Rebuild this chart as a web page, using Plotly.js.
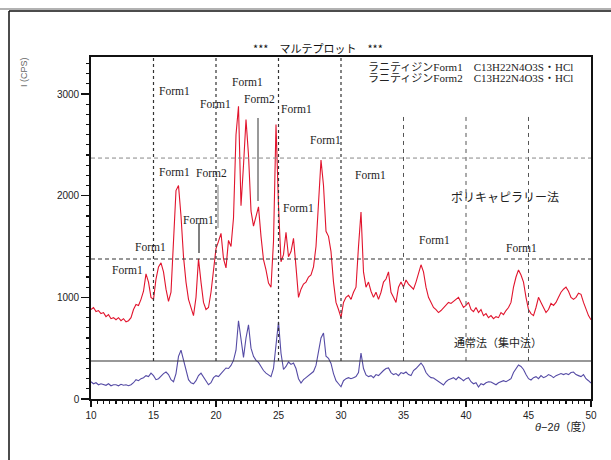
<!DOCTYPE html>
<html><head><meta charset="utf-8">
<script src="https://cdn.plot.ly/plotly-3.0.1.min.js"></script>
<style>body{margin:0;padding:0;background:#fff}#chart{width:611px;height:460px}</style>
</head><body><div id="chart"></div>
<script>
// 2θ sampling: start 10°, step 0.2°
const twoThetaStart = 10;
const twoThetaStep = 0.2;

// ポリキャピラリー法 intensity (CPS)
const polyCapillary = [
  880, 900, 860, 870, 840,
  850, 810, 830, 790, 800,
  780, 800, 770, 790, 760,
  770, 800, 880, 930, 920,
  980, 1060, 1230, 1150, 1000,
  980, 1180, 1300, 1340, 1250,
  1080, 960, 1050, 1500, 2050,
  2100, 1800, 1400, 1150, 980,
  900, 820, 1000, 1380, 1150,
  950, 880, 900, 1050, 1300,
  1480, 1550, 1630, 1380, 1290,
  1560, 1500, 1780, 2600, 2880,
  1900, 2300, 2750, 2400, 1850,
  1700, 1800, 1890, 1600, 1370,
  1270, 1140, 1100, 1550, 2700,
  1900, 1350, 1420, 1640, 1400,
  1450, 1580, 1300, 1000, 1080,
  1130, 1150, 1200, 1220, 1300,
  1500, 2000, 2350, 2100, 1650,
  1600, 1450, 1150, 950, 880,
  800, 950, 1000, 1020, 980,
  1050, 1100, 1500, 1840, 1250,
  1100, 1150, 1060, 1000, 1050,
  980, 1050, 1150, 1180, 1250,
  1050, 1000, 950, 1100, 1150,
  1100, 1170, 1130, 1100, 1080,
  1150, 1250, 1320, 1250, 1100,
  1000, 950, 900, 880, 850,
  870, 900, 920, 950, 940,
  960, 980, 1000, 950, 900,
  920, 950, 880, 860, 900,
  850, 880, 820, 840, 800,
  820, 790, 810, 800, 850,
  830, 870, 900, 950, 1100,
  1200, 1270, 1220, 1150, 1000,
  880, 840, 820, 900, 1000,
  950, 900, 850, 880, 940,
  920, 950, 1000, 1050, 1080,
  1100, 1060, 1000, 980, 1000,
  1040, 1030, 950, 880, 820,
  780
];

// 通常法（集中法） intensity (CPS)
const conventional = [
  170, 150, 160, 140, 150,
  145, 135, 150, 130, 140,
  140, 130, 145, 135, 140,
  130, 140, 160, 190, 180,
  200, 210, 230, 220, 255,
  230, 190, 200, 230, 250,
  265, 240, 190, 170, 250,
  420, 480, 380, 260, 190,
  160, 150, 180, 230, 255,
  220, 180, 140, 160, 210,
  230, 220, 250, 280, 305,
  300, 330, 380, 480, 770,
  560, 410, 600, 730, 500,
  420, 380, 360, 320, 280,
  255, 240, 220, 300, 550,
  760, 450, 290, 320, 364,
  340, 354, 300, 200, 157,
  190, 210, 230, 250, 270,
  330, 480, 600, 649, 420,
  400, 350, 250, 180, 150,
  120, 180, 200, 210, 200,
  210, 220, 260, 452, 300,
  236, 220, 230, 210, 240,
  230, 260, 280, 300, 305,
  260, 240, 250, 230, 260,
  250, 265, 240, 230, 280,
  300, 330, 354, 320, 260,
  230, 210, 206, 190, 170,
  150, 138, 170, 190, 200,
  210, 190, 216, 200, 180,
  200, 210, 170, 150, 160,
  118, 150, 140, 160, 170,
  167, 150, 140, 160, 170,
  180, 170, 187, 200, 260,
  300, 334, 320, 290, 240,
  200, 187, 210, 220, 200,
  230, 210, 220, 240, 230,
  210, 230, 240, 250, 240,
  250, 240, 260, 265, 240,
  230, 220, 240, 200, 180,
  157
];

// Peak labels
const peakLabelX = [12.88, 14.72, 16.64, 19.6, 18.56, 16.64, 19.92, 22.48, 23.44, 26.4, 28.72, 26.56, 32.32, 37.44, 44.4];
const peakLabelY = [1269, 1495, 2233, 2223, 1761, 3030, 2902, 3118, 2951, 2852, 2548, 1879, 2203, 1564, 1485];
const peakLabelText = ["Form1","Form1","Form1","Form2","Form1","Form1","Form1","Form1","Form2","Form1","Form1","Form1","Form1","Form1","Form1"];

// Reference lines
const vLinesDark = [15, 20, 25, 30];
const vLinesLight = [35, 40, 45];
const hLineUpper = 2370;
const hLineMid = 1377;
const hLineBase = 374;
const markerX = [18.64, 20.16, 23.36];
const markerY0 = [1436, 1682, 1947];
const markerY1 = [1731, 2105, 2764];
const markerColor = ["#555", "#aaa", "#777"];

const traces = [
  {y: polyCapillary, x0: twoThetaStart, dx: twoThetaStep, type: 'scatter', mode: 'lines',
   line: {color: 'rgb(225,20,45)', width: 1.1}, hoverinfo: 'skip'},
  {y: conventional, x0: twoThetaStart, dx: twoThetaStep, type: 'scatter', mode: 'lines',
   line: {color: 'rgb(85,75,165)', width: 1.1}, hoverinfo: 'skip'}
];

const shapes = [];
vLinesDark.forEach(v => shapes.push({type:'line', xref:'x', yref:'y', x0:v, x1:v, y0:hLineBase, y1:3364,
  line:{color:'#333', width:1.2, dash:'3px,3px'}}));
vLinesLight.forEach(v => shapes.push({type:'line', xref:'x', yref:'y', x0:v, x1:v, y0:hLineBase, y1:2790,
  line:{color:'#555', width:1, dash:'4px,4px'}}));
shapes.push({type:'line', xref:'paper', yref:'y', x0:0, x1:1, y0:hLineUpper, y1:hLineUpper,
  line:{color:'#888', width:1, dash:'4px,3px'}});
shapes.push({type:'line', xref:'paper', yref:'y', x0:0, x1:1, y0:hLineMid, y1:hLineMid,
  line:{color:'#333', width:1.1, dash:'4px,3px'}});
shapes.push({type:'line', xref:'paper', yref:'y', x0:0, x1:1, y0:hLineBase, y1:hLineBase,
  line:{color:'#333', width:1.1}});
markerX.forEach((v,i) => shapes.push({type:'line', xref:'x', yref:'y', x0:v, x1:v, y0:markerY0[i], y1:markerY1[i],
  line:{color:markerColor[i], width:1.5}}));
// outer frame
shapes.push({type:'line', xref:'paper', yref:'paper', x0:-0.182, x1:1.04, y0:1.1404, y1:1.1404, line:{color:'#999', width:1.5}});
shapes.push({type:'line', xref:'paper', yref:'paper', x0:-0.164, x1:1.04, y0:1.1345, y1:1.1345, line:{color:'#111', width:1.5}});
shapes.push({type:'line', xref:'paper', yref:'paper', x0:-0.164, x1:-0.164, y0:1.1345, y1:-0.2, line:{color:'#111', width:1.5}});

const serif = 'Liberation Serif, "DejaVu Serif", "Noto Sans CJK JP", serif';
const jp = '"Noto Sans CJK JP", sans-serif';
function ann(o) { return Object.assign({showarrow:false, xanchor:'center', yanchor:'middle'}, o); }
const annotations = peakLabelText.map((t,i) => ann({x: peakLabelX[i], y: peakLabelY[i], xref:'x', yref:'y', text: t,
  font:{family: serif, size: 11.5, color:'#222'}}));
annotations.push(ann({x:43.12, y:1987, xref:'x', yref:'y', text:'ポリキャピラリー法',
  font:{family: jp, size: 12, color:'#222'}}));
annotations.push(ann({x:42.56, y:561, xref:'x', yref:'y', text:'通常法（集中法）',
  font:{family: jp, size: 11, color:'#222'}}));
annotations.push(ann({x:(366-91)/500, y:(399-67)/342, xref:'paper', yref:'paper', xanchor:'left', text:'ラニティジンForm1　C13H22N4O3S・HCl',
  font:{family: serif, size: 11, color:'#222'}}));
annotations.push(ann({x:(366-91)/500, y:(399-78)/342, xref:'paper', yref:'paper', xanchor:'left', text:'ラニティジンForm2　C13H22N4O3S・HCl',
  font:{family: serif, size: 11, color:'#222'}}));
annotations.push(ann({x:(318-91)/500, y:(399-48)/342, xref:'paper', yref:'paper', text:'***　マルテプロット　***',
  font:{family: jp, size: 11, color:'#111'}}));
annotations.push(ann({x:(24-91)/500, y:(399-72)/342, xref:'paper', yref:'paper', text:'I (CPS)', textangle:-90,
  font:{family: 'Liberation Sans, Arial, sans-serif', size: 9, color:'#666'}}));
annotations.push(ann({x:(594-91)/500, y:(399-427)/342, xref:'paper', yref:'paper', xanchor:'right', text:'<i>θ</i>−2<i>θ</i>（度）',
  font:{family: 'Liberation Sans, "Noto Sans CJK JP", sans-serif', size: 11, color:'#222'}}));

const layout = {
  width: 611, height: 460,
  margin: {l: 91, r: 20, t: 57, b: 61},
  paper_bgcolor: '#fff', plot_bgcolor: '#fff',
  showlegend: false,
  xaxis: {range: [10, 50], tickvals: [10,15,20,25,30,35,40,45,50], ticks: 'outside', ticklen: 6, tickwidth: 1.2,
    tickcolor: '#111', showline: true, linecolor: '#111', linewidth: 1.8, mirror: true, showgrid: false, zeroline: false,
    minor: {dtick: 0.5, tick0: 10, ticks: 'outside', ticklen: 3, tickcolor: '#111', showgrid: false},
    tickfont: {family: 'Liberation Sans, Arial, sans-serif', size: 10, color: '#222'}},
  yaxis: {range: [0, 3364], tickvals: [0,1000,2000,3000], ticks: 'outside', ticklen: 8, tickwidth: 1.2,
    tickcolor: '#111', showline: true, linecolor: '#111', linewidth: 1.8, mirror: true, showgrid: false, zeroline: false,
    minor: {dtick: 100, tick0: 0, ticks: 'outside', ticklen: 3, tickcolor: '#111', showgrid: false},
    tickfont: {family: 'Liberation Sans, Arial, sans-serif', size: 10, color: '#222'}},
  shapes: shapes,
  annotations: annotations
};

Plotly.newPlot('chart', traces, layout, {staticPlot: true, displayModeBar: false});
</script>
</body></html>
